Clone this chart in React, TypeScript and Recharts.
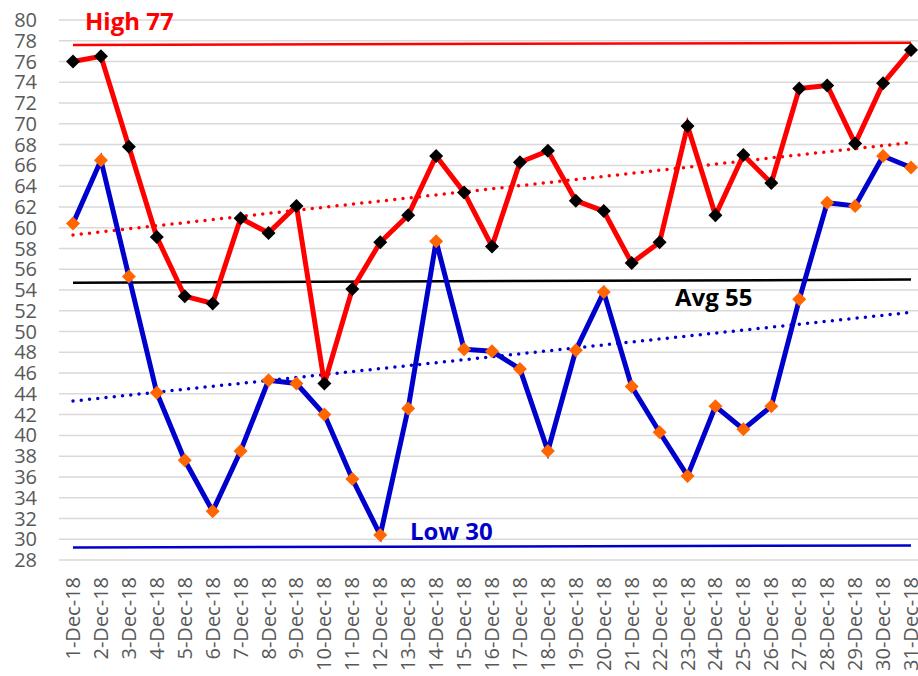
import { LineChart, Line, XAxis, YAxis, CartesianGrid, ReferenceLine } from 'recharts';

const dates = [
  '1-Dec-18', '2-Dec-18', '3-Dec-18', '4-Dec-18', '5-Dec-18', '6-Dec-18', '7-Dec-18', '8-Dec-18',
  '9-Dec-18', '10-Dec-18', '11-Dec-18', '12-Dec-18', '13-Dec-18', '14-Dec-18', '15-Dec-18', '16-Dec-18',
  '17-Dec-18', '18-Dec-18', '19-Dec-18', '20-Dec-18', '21-Dec-18', '22-Dec-18', '23-Dec-18', '24-Dec-18',
  '25-Dec-18', '26-Dec-18', '27-Dec-18', '28-Dec-18', '29-Dec-18', '30-Dec-18', '31-Dec-18',
];

const highs = [
  76.0, 76.5, 67.8, 59.1, 53.4, 52.7, 60.9, 59.5, 62.1, 45.0, 54.1, 58.6, 61.2, 66.9, 63.4, 58.2,
  66.3, 67.4, 62.6, 61.6, 56.6, 58.6, 69.8, 61.2, 67.0, 64.3, 73.4, 73.7, 68.1, 73.9, 77.1,
];

const lows = [
  60.4, 66.5, 55.3, 44.1, 37.6, 32.7, 38.5, 45.3, 45.0, 42.0, 35.8, 30.4, 42.6, 58.7, 48.3, 48.1,
  46.4, 38.5, 48.2, 53.8, 44.7, 40.3, 36.1, 42.8, 40.6, 42.8, 53.1, 62.4, 62.1, 66.9, 65.8,
];

// start / end values of the straight lines
const highLine = [77.6, 77.8];
const avgLine = [54.7, 55.0];
const lowLine = [29.2, 29.4];
const highTrend = [59.3, 68.2];
const lowTrend = [43.3, 51.85];

const yTicks = [28, 30, 32, 34, 36, 38, 40, 42, 44, 46, 48, 50, 52, 54, 56, 58, 60, 62, 64, 66, 68, 70, 72, 74, 76, 78, 80];

const data = dates.map((d, i) => ({ date: d, high: highs[i], low: lows[i] }));

const first = dates[0];
const last = dates[dates.length - 1];

const FONT = '"Open Sans", sans-serif';

function diamond(fill: string) {
  return (props: any) => {
    const { cx, cy, index } = props;
    if (cx == null || cy == null) return <g key={index} />;
    const r = 7;
    return (
      <polygon
        key={index}
        points={`${cx},${cy - r} ${cx + r},${cy} ${cx},${cy + r} ${cx - r},${cy}`}
        fill={fill}
      />
    );
  };
}

function DateTick(props: any) {
  const { x, y, payload } = props;
  return (
    <g transform={`translate(${x},${y})`}>
      <text
        x={0}
        y={0}
        dy="0.35em"
        textAnchor="end"
        transform="rotate(-90)"
        fill="#595959"
        fontSize={20}
        fontFamily={FONT}
      >
        {payload.value}
      </text>
    </g>
  );
}

function seg(vals: number[]) {
  return [
    { x: first, y: vals[0] },
    { x: last, y: vals[1] },
  ] as any;
}

export default function App() {
  return (
    <div
      style={{
        position: 'fixed',
        left: 0,
        top: 0,
        width: 918,
        height: 676,
        overflow: 'hidden',
        background: '#fff',
      }}
    >
      <LineChart width={932} height={700} data={data} margin={{ top: 20, right: 7, left: 0, bottom: 0 }}>
        <CartesianGrid vertical={false} stroke="#d9d9d9" strokeWidth={1.5} />
        <XAxis
          dataKey="date"
          interval={0}
          padding={{ left: 14, right: 14 }}
          axisLine={false}
          tickLine={false}
          tickSize={0}
          tickMargin={17}
          height={140}
          tick={<DateTick />}
        />
        <YAxis
          domain={[28, 80]}
          ticks={yTicks}
          interval={0}
          width={59}
          axisLine={false}
          tickLine={false}
          tickSize={0}
          tickMargin={22}
          tick={{ fill: '#595959', fontSize: 20, fontFamily: FONT }}
        />
        <ReferenceLine segment={seg(highLine)} stroke="#ff0000" strokeWidth={2.5} />
        <ReferenceLine segment={seg(avgLine)} stroke="#000000" strokeWidth={2.5} />
        <ReferenceLine segment={seg(lowLine)} stroke="#0000cc" strokeWidth={2.5} />
        <ReferenceLine
          segment={seg(highTrend)}
          stroke="#ff0000"
          strokeWidth={3.5}
          strokeDasharray="0 8.3"
          strokeLinecap="round"
        />
        <ReferenceLine
          segment={seg(lowTrend)}
          stroke="#0000cc"
          strokeWidth={3.5}
          strokeDasharray="0 8.3"
          strokeLinecap="round"
        />
        <Line
          type="linear"
          dataKey="low"
          stroke="#0000cc"
          strokeWidth={5}
          dot={diamond('#ff6600')}
          activeDot={false}
          isAnimationActive={false}
        />
        <Line
          type="linear"
          dataKey="high"
          stroke="#ff0000"
          strokeWidth={5}
          dot={diamond('#000000')}
          activeDot={false}
          isAnimationActive={false}
        />
      </LineChart>
      <svg
        width={918}
        height={676}
        style={{ position: 'absolute', left: 0, top: 0, pointerEvents: 'none' }}
      >
        <text x={85} y={30} fill="#ff0000" fontSize={24} fontWeight="bold" fontFamily={FONT}>
          High 77
        </text>
        <text x={675} y={306} fill="#000000" fontSize={24} fontWeight="bold" fontFamily={FONT}>
          Avg 55
        </text>
        <text x={410} y={540} fill="#0000cc" fontSize={24} fontWeight="bold" fontFamily={FONT}>
          Low 30
        </text>
      </svg>
    </div>
  );
}
